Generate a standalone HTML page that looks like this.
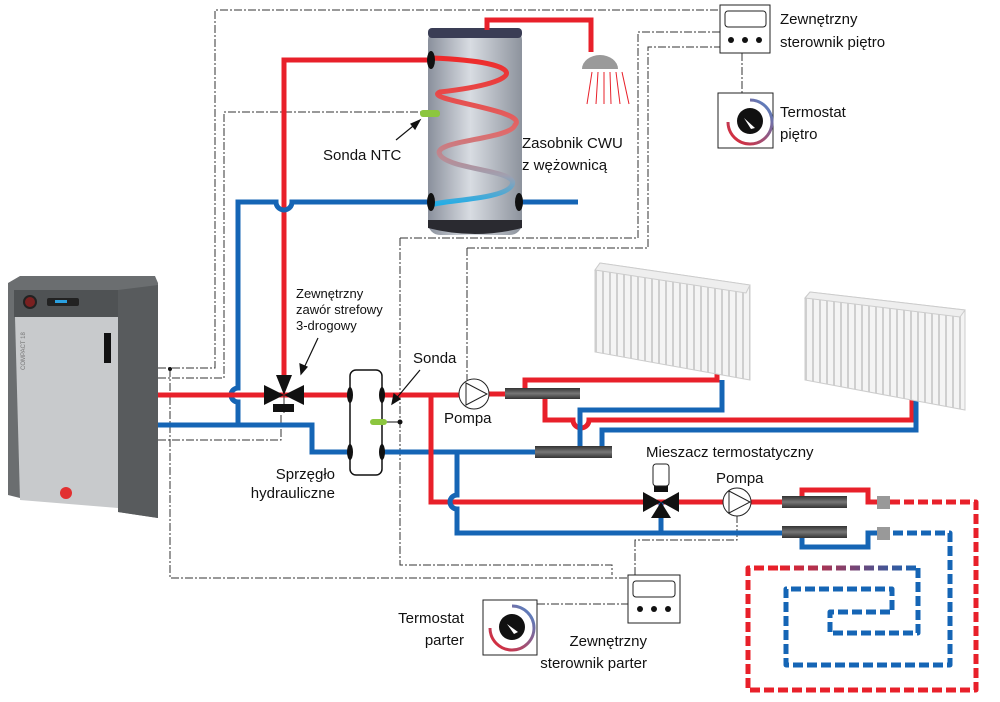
<!DOCTYPE html>
<html><head><meta charset="utf-8"><style>
body{margin:0;background:#fff}
svg{display:block}
text{font-family:"Liberation Sans",sans-serif;fill:#111}
</style></head><body>
<svg width="1000" height="702" viewBox="0 0 1000 702" xmlns="http://www.w3.org/2000/svg">
<defs>
<linearGradient id="tank" x1="0" x2="1" y1="0" y2="0">
<stop offset="0" stop-color="#8a909c"/><stop offset="0.45" stop-color="#d8dce2"/><stop offset="1" stop-color="#8d939d"/></linearGradient>
<linearGradient id="coil" x1="0" x2="0" y1="0" y2="1">
<stop offset="0" stop-color="#ee2a2a"/><stop offset="0.5" stop-color="#e06a6a"/><stop offset="0.8" stop-color="#a0a0b0"/><stop offset="1" stop-color="#20aee8"/></linearGradient>
<linearGradient id="sleeve" x1="0" x2="0" y1="0" y2="1">
<stop offset="0" stop-color="#333"/><stop offset="0.5" stop-color="#777"/><stop offset="1" stop-color="#333"/></linearGradient>
<linearGradient id="fl" x1="780" x2="918" y1="0" y2="0" gradientUnits="userSpaceOnUse">
<stop offset="0" stop-color="#e8202a"/><stop offset="1" stop-color="#1565b5"/></linearGradient>
<linearGradient id="arc" x1="0" x2="1" y1="1" y2="0">
<stop offset="0" stop-color="#e8202a"/><stop offset="1" stop-color="#4a8ad0"/></linearGradient>
<pattern id="fins" width="7" height="10" patternUnits="userSpaceOnUse"><rect width="7" height="10" fill="#f4f4f4"/><rect width="2" height="10" fill="#cfcfcf"/></pattern>
</defs>

<!-- control dash-dot lines -->
<g fill="none" stroke="#333" stroke-width="1" stroke-dasharray="8,2,2,2">
<path d="M158,368 H215 V10 H720"/>
<path d="M158,378 H224 V112 H425"/>
<path d="M158,440 H281 V413"/>
<path d="M170,369 V578 H635"/>
<path d="M400,238 V565 H612 V575"/>
<path d="M400,238 H638 V32 H720"/>
<path d="M467,248 V380"/>
<path d="M467,248 H648 V47 H720"/>
<path d="M742,53 V93"/>
<path d="M737,515 V540 H635 V575"/>
<path d="M537,604 H628"/>
</g>
<circle cx="170" cy="369" r="2" fill="#111"/>
<circle cx="400" cy="422" r="2.5" fill="#111"/>
<line x1="385" y1="422" x2="400" y2="422" stroke="#111"/>

<!-- boiler -->
<polygon points="8,283 20,276 155,276 158,283 158,518 118,512 118,505 20,498 8,495" fill="#6b6e70"/>
<polygon points="118,290 158,285 158,518 118,512" fill="#585b5d"/>
<rect x="14" y="290" width="104" height="27" fill="#4f5254"/>
<polygon points="15,317 118,317 118,508 20,500" fill="#c8cacc"/>
<circle cx="30" cy="302" r="6" fill="#7a2020" stroke="#222" stroke-width="2"/>
<rect x="47" y="298" width="32" height="8" rx="2" fill="#222"/><rect x="55" y="300" width="12" height="3" fill="#2aa0e0"/>
<rect x="104" y="333" width="7" height="30" fill="#111"/>
<text x="25" y="370" font-size="6" transform="rotate(-90 25 370)" style="fill:#777">COMPACT 18</text>
<circle cx="66" cy="493" r="6" fill="#e23030"/>

<!-- tank -->
<rect x="428" y="28" width="94" height="207" rx="12" fill="url(#tank)"/>
<rect x="428" y="28" width="94" height="10" rx="4" fill="#3a3d55"/>
<path d="M428,220 H522 V228 Q475,240 428,228Z" fill="#2a2a30"/>
<path d="M432,58 C530,62 530,82 440,92 C420,100 530,110 515,125 C510,140 430,140 440,155 C450,170 520,170 512,185 C505,200 440,200 432,205" fill="none" stroke="url(#coil)" stroke-width="5"/>
<rect x="420" y="110" width="20" height="7" rx="3" fill="#8cc63f"/>

<!-- pipes -->
<g fill="none" stroke-width="5" stroke-linejoin="miter">
<path d="M284,380 V60 H430" stroke="#e8202a"/>
<path d="M487,30 V20 H591 V52" stroke="#e8202a"/>
<path d="M238,425 V402 a7,7 0 0 1 0,-14 V202 H276 a8,8 0 0 0 16,0 H430" stroke="#1565b5"/>
<path d="M520,202 H578" stroke="#1565b5"/>
<path d="M158,395 H465" stroke="#e8202a"/>
<path d="M158,425 H312 V452 H540" stroke="#1565b5"/>
<path d="M431,395 V502 H737" stroke="#e8202a"/>
<path d="M457,452 V495 a7,7 0 0 0 0,14 V533 H790" stroke="#1565b5"/>
<path d="M489,394 H505" stroke="#e8202a"/>
<path d="M525,393 V380 H717 V374" stroke="#e8202a"/>
<path d="M545,393 V420 H573 a8,8 0 0 0 16,0 H912 V398" stroke="#e8202a"/>
<path d="M580,452 V410 H722 V380" stroke="#1565b5"/>
<path d="M602,452 V430 H916 V400" stroke="#1565b5"/>
<path d="M750,502 H790" stroke="#e8202a"/>
<path d="M802,502 V490 H868 V502 H880" stroke="#e8202a"/>
<path d="M802,533 V547 H868 V533 H880" stroke="#1565b5"/>
</g>
<line x1="284" y1="395" x2="284" y2="413" stroke="#333"/>
<line x1="661" y1="502" x2="661" y2="533" stroke="#1565b5" stroke-width="5"/>

<!-- sleeves -->
<rect x="505" y="388" width="75" height="11" fill="url(#sleeve)"/>
<rect x="535" y="446" width="77" height="12" fill="url(#sleeve)"/>
<rect x="782" y="496" width="65" height="12" fill="url(#sleeve)"/>
<rect x="782" y="526" width="65" height="12" fill="url(#sleeve)"/>
<rect x="877" y="496" width="13" height="13" fill="#999"/>
<rect x="877" y="527" width="13" height="13" fill="#999"/>

<!-- floor heating -->
<g fill="none" stroke-width="5" stroke-dasharray="10,4" stroke-linejoin="round">
<path d="M890,502 H976 V690 H748 V568 H780" stroke="#e8202a"/>
<path d="M780,568 H918" stroke="url(#fl)"/>
<path d="M918,568 V633 H830 V612 H892 V589 H786 V665 H950 V533 H890" stroke="#1565b5"/>
</g>

<!-- radiators -->
<g>
<polygon points="595,270 600,263 750,285 750,380 595,352" fill="url(#fins)" stroke="#ccc"/>
<polygon points="595,270 600,263 750,285 746,293" fill="#eee" stroke="#ccc"/>
<polygon points="805,298 810,292 965,310 965,410 805,380" fill="url(#fins)" stroke="#ccc"/>
<polygon points="805,298 810,292 965,310 960,317" fill="#eee" stroke="#ccc"/>
</g>

<!-- coupler -->
<rect x="350" y="370" width="32" height="105" rx="6" fill="#fff" stroke="#111" stroke-width="1.5"/>
<g fill="#111"><ellipse cx="350" cy="395" rx="3" ry="8"/><ellipse cx="382" cy="395" rx="3" ry="8"/><ellipse cx="350" cy="452" rx="3" ry="8"/><ellipse cx="382" cy="452" rx="3" ry="8"/>
<ellipse cx="431" cy="60" rx="4" ry="9"/><ellipse cx="431" cy="202" rx="4" ry="9"/><ellipse cx="519" cy="202" rx="4" ry="9"/></g>
<rect x="370" y="419" width="17" height="6" rx="3" fill="#8cc63f"/>

<!-- valve -->
<g fill="#111"><polygon points="264,385 284,395 264,405"/><polygon points="304,385 284,395 304,405"/><polygon points="276,375 292,375 284,395"/>
<rect x="273" y="404" width="21" height="8"/></g>
<!-- mixer -->
<g fill="#111"><polygon points="643,492 661,502 643,512"/><polygon points="679,492 661,502 679,512"/><polygon points="651,518 671,518 661,502"/>
<rect x="654" y="484" width="14" height="8"/></g>
<rect x="653" y="464" width="16" height="22" rx="3" fill="#fff" stroke="#222"/>

<!-- pumps -->
<g fill="#fff" stroke="#222" stroke-width="1"><circle cx="474" cy="394" r="15"/><circle cx="737" cy="502" r="14"/></g>
<g fill="none" stroke="#222"><polygon points="466,383 487,394 466,405"/><polygon points="729,491 750,502 729,513"/></g>

<!-- shower -->
<path d="M582,69 a18,14 0 0 1 36,0Z" fill="#9a9a9a"/>
<g stroke="#e8202a" stroke-width="1"><line x1="592" y1="72" x2="587" y2="104"/><line x1="598" y1="72" x2="596" y2="104"/><line x1="604" y1="72" x2="604" y2="104"/><line x1="610" y1="72" x2="611" y2="104"/><line x1="616" y1="72" x2="620" y2="104"/><line x1="622" y1="72" x2="629" y2="104"/></g>

<!-- controllers -->
<rect x="720" y="5" width="50" height="48" fill="#fff" stroke="#222"/>
<rect x="725" y="11" width="41" height="16" rx="3" fill="#fff" stroke="#222"/>
<g fill="#111"><circle cx="731" cy="40" r="3"/><circle cx="745" cy="40" r="3"/><circle cx="759" cy="40" r="3"/></g>
<rect x="718" y="93" width="55" height="55" fill="#fff" stroke="#222"/>
<circle cx="750" cy="121" r="13" fill="#111"/>
<path d="M728,122 a22,22 0 1 0 22,-22" fill="none" stroke="url(#arc)" stroke-width="3"/>
<polygon points="744,118 755,128 751,129" fill="#fff"/>

<rect x="628" y="575" width="52" height="48" fill="#fff" stroke="#222"/>
<rect x="633" y="581" width="42" height="16" rx="3" fill="#fff" stroke="#222"/>
<g fill="#111"><circle cx="640" cy="609" r="3"/><circle cx="654" cy="609" r="3"/><circle cx="668" cy="609" r="3"/></g>
<rect x="483" y="600" width="54" height="55" fill="#fff" stroke="#222"/>
<circle cx="512" cy="627" r="13" fill="#111"/>
<path d="M490,628 a22,22 0 1 0 22,-22" fill="none" stroke="url(#arc)" stroke-width="3"/>
<polygon points="507,624 518,632 514,634" fill="#fff"/>

<!-- arrows -->
<g stroke="#111" stroke-width="1.2" fill="#111">
<line x1="396" y1="140" x2="418" y2="122"/><polygon points="420,120 411,124 415,129"/>
<line x1="318" y1="338" x2="303" y2="370"/><polygon points="301,374 300,364 307,367"/>
<line x1="420" y1="370" x2="395" y2="400"/><polygon points="392,404 394,394 400,399"/>
</g>

<!-- labels -->
<g font-size="15">
<text x="780" y="24">Zewnętrzny</text><text x="780" y="47">sterownik piętro</text>
<text x="780" y="117">Termostat</text><text x="780" y="139">piętro</text>
<text x="522" y="148">Zasobnik CWU</text><text x="522" y="170">z wężownicą</text>
<text x="323" y="160">Sonda NTC</text>
<text x="413" y="363">Sonda</text>
<text x="444" y="423">Pompa</text>
<text x="335" y="479" text-anchor="end">Sprzęgło</text><text x="335" y="498" text-anchor="end">hydrauliczne</text>
<text x="646" y="457">Mieszacz termostatyczny</text>
<text x="716" y="483">Pompa</text>
<text x="464" y="623" text-anchor="end">Termostat</text><text x="464" y="645" text-anchor="end">parter</text>
<text x="647" y="646" text-anchor="end">Zewnętrzny</text><text x="647" y="668" text-anchor="end">sterownik parter</text>
</g>
<g font-size="13">
<text x="296" y="298">Zewnętrzny</text><text x="296" y="314">zawór strefowy</text><text x="296" y="330">3-drogowy</text>
</g>
</svg>
</body></html>
